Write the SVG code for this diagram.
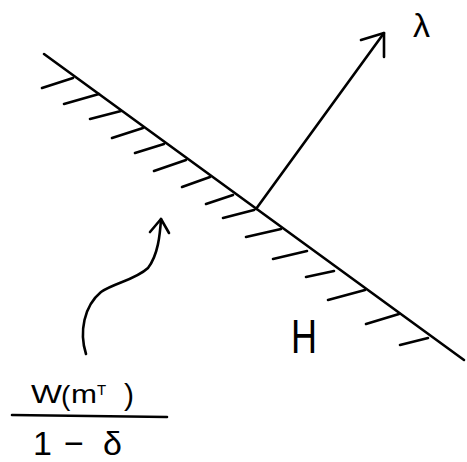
<svg xmlns="http://www.w3.org/2000/svg" width="467" height="462" viewBox="0 0 467 462">
  <style>
    .ln { stroke: #000; stroke-width: 2.6; fill: none; stroke-linecap: round; stroke-linejoin: round; }
    .tx { font-family: "Liberation Sans", "DejaVu Sans", sans-serif; fill: #000; }
  </style>
  <rect width="467" height="462" fill="#fff"/>
  <g id="hyperplane">
    <path class="ln" d="M44,54 L464,360"/>
    <g id="hatches">
      <path class="ln" d="M73,78 L42,88"/>
      <path class="ln" d="M99,94 L64,104"/>
      <path class="ln" d="M121,111 L90,119"/>
      <path class="ln" d="M143,128 L112,138"/>
      <path class="ln" d="M164,144 L135,153"/>
      <path class="ln" d="M186,160 L154,171"/>
      <path class="ln" d="M210,177 L182,187"/>
      <path class="ln" d="M233,195 L206,204"/>
      <path class="ln" d="M254,210 L223,218"/>
      <path class="ln" d="M281,229 L246,237"/>
      <path class="ln" d="M307,251 L273,259"/>
      <path class="ln" d="M334,271 L306,277"/>
      <path class="ln" d="M365,290 L328,300"/>
      <path class="ln" d="M399,314 L366,324"/>
      <path class="ln" d="M428,338 L400,345"/>
    </g>
  </g>
  <g id="connectors">
    <g id="lambda-arrow">
      <path class="ln" d="M256,209 L384,33"/>
      <path class="ln" d="M361,40 L384,33 L384,57"/>
    </g>
    <g id="curved-arrow">
      <path class="ln" d="M86,354 C79,332 84,306 101,292 C114,283 135,280 148,268 C158,255 160,235 161,219"/>
      <path class="ln" d="M150,232 L161,219 L169,233"/>
    </g>
  </g>
  <g id="label-lambda">
    <text class="tx" x="413" y="37" font-size="34">λ</text>
  </g>
  <g id="label-H">
    <text class="tx" x="291" y="353" font-size="48" textLength="26" lengthAdjust="spacingAndGlyphs">H</text>
  </g>
  <g id="label-fraction">
    <text class="tx" x="31" y="403" font-size="25" textLength="31" lengthAdjust="spacingAndGlyphs">W</text>
    <text class="tx" x="61" y="405" font-size="28">(</text>
    <text class="tx" x="71" y="403" font-size="26" textLength="26" lengthAdjust="spacingAndGlyphs">m</text>
    <text class="tx" x="97" y="395" font-size="15">T</text>
    <text class="tx" x="124" y="405" font-size="30">)</text>
    <path class="ln" d="M12,415 L167,417"/>
    <text class="tx" font-size="34" y="455"><tspan x="33">1</tspan><tspan x="64">−</tspan><tspan x="103">δ</tspan></text>
  </g>
</svg>
